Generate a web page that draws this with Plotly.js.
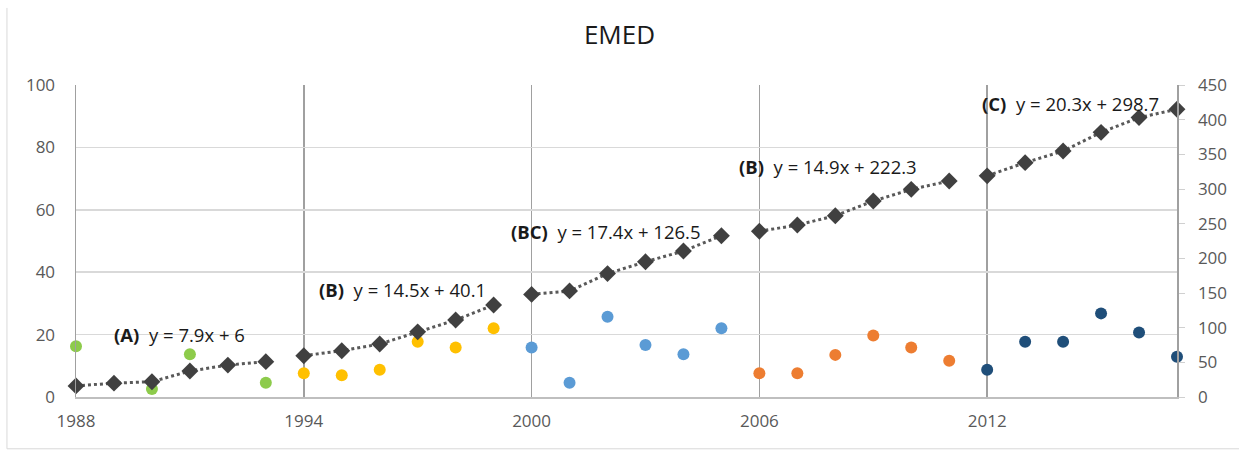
<!DOCTYPE html>
<html>
<head>
<meta charset="utf-8">
<script src="https://cdn.plot.ly/plotly-3.0.1.min.js"></script>
<style>html,body{margin:0;padding:0;background:#fff;}#chart{width:1239px;height:450px;}</style>
</head>
<body>
<div id="chart"></div>
<script>
// ---- data ----
const years = [1988,1989,1990,1991,1992,1993,1994,1995,1996,1997,1998,1999,2000,2001,2002,2003,2004,2005,2006,2007,2008,2009,2010,2011,2012,2013,2014,2015,2016,2017];
const cumulative = [16,20,22,37.5,46,51,59.6,66.8,76.4,94,111,132.7,148,153,178,195,210.5,232.6,239,248,261.5,282.6,299.5,311.5,319,338,354.7,381.7,403,415];

const greenYears = [1988,1990,1991,1993];
const greenValues = [16.3,2.6,13.7,4.6];
const yellowYears = [1994,1995,1996,1997,1998,1999];
const yellowValues = [7.6,7.0,8.7,17.7,15.9,22];
const blueYears = [2000,2001,2002,2003,2004,2005];
const blueValues = [15.9,4.6,25.7,16.7,13.7,22];
const orangeYears = [2006,2007,2008,2009,2010,2011];
const orangeValues = [7.6,7.6,13.5,19.7,15.9,11.6];
const navyYears = [2012,2013,2014,2015,2016,2017];
const navyValues = [8.7,17.7,17.7,26.8,20.7,12.9];

const segmentStart = [1988,1994,2000,2006,2012];
const segmentEnd = [1993,1999,2005,2011,2017];
const trendTags = ["(A)","(B)","(BC)","(B)","(C)"];
const trendEquations = ["y = 7.9x + 6","y = 14.5x + 40.1","y = 17.4x + 126.5","y = 14.9x + 222.3","y = 20.3x + 298.7"];
const xTicks = [1988,1994,2000,2006,2012];
const xTickText = ["1988","1994","2000","2006","2012"];

// ---- styling / layout ----
const FONT = "'Open Sans', sans-serif";
const traces = [];

// dotted connecting lines per segment (right axis)
segmentStart.forEach((s, i) => {
  const xs = [], ys = [];
  years.forEach((yr, k) => { if (yr >= s && yr <= segmentEnd[i]) { xs.push(yr); ys.push(cumulative[k]); } });
  traces.push({x: xs, y: ys, yaxis: 'y2', mode: 'lines', type: 'scatter',
    line: {color: '#595959', width: 3, dash: 'dot'}, hoverinfo: 'skip', showlegend: false, cliponaxis: false});
});

const dotGroups = [
  [greenYears, greenValues, '#8DCB4B'],
  [yellowYears, yellowValues, '#FFC000'],
  [blueYears, blueValues, '#5B9BD5'],
  [orangeYears, orangeValues, '#ED7D31'],
  [navyYears, navyValues, '#1F4E79']
];
dotGroups.forEach(g => {
  traces.push({x: g[0], y: g[1], mode: 'markers', type: 'scatter', yaxis: 'y',
    marker: {color: g[2], size: 12, symbol: 'circle'}, showlegend: false, cliponaxis: false});
});

traces.push({x: years, y: cumulative, yaxis: 'y2', mode: 'markers', type: 'scatter',
  marker: {color: '#404040', size: 13, symbol: 'diamond'}, showlegend: false, cliponaxis: false});

const annX = [1988.95, 1994.35, 1999.4, 2005.4, 2011.8];
const annY = [20, 34.3, 53, 73.8, 94.1];
const annotations = trendTags.map((t, i) => ({
  x: annX[i], y: annY[i], xref: 'x', yref: 'y', xanchor: 'left', yanchor: 'middle',
  text: '<b>' + t + '</b>  ' + trendEquations[i], showarrow: false,
  font: {family: FONT, size: 18.5, color: '#1a1a1a'}
}));

const layout = {
  width: 1239, height: 450,
  margin: {l: 76, r: 62, t: 85, b: 53},
  paper_bgcolor: '#ffffff', plot_bgcolor: '#ffffff',
  title: {text: 'EMED', x: 0.5, xanchor: 'center', y: 0.922, yanchor: 'middle',
    font: {family: FONT, size: 26, color: '#1a1a1a'}},
  xaxis: {range: [1988, 2017], tickvals: xTicks, ticktext: xTickText,
    showgrid: true, gridcolor: '#a0a0a0', gridwidth: 1.5,
    showline: true, linecolor: '#bfbfbf', linewidth: 1.5, zeroline: false,
    ticks: '', ticklabelstandoff: 8, tickfont: {family: FONT, size: 17, color: '#595959'}},
  yaxis: {range: [0, 100], dtick: 20, showgrid: true, gridcolor: '#d9d9d9', gridwidth: 1.5,
    showline: true, linecolor: '#a0a0a0', linewidth: 1.5, zeroline: false, ticks: '',
    ticklabelstandoff: 16, tickfont: {family: FONT, size: 17, color: '#595959'}},
  yaxis2: {range: [0, 450], dtick: 50, overlaying: 'y', side: 'right', showgrid: false,
    showline: true, linecolor: '#a0a0a0', linewidth: 1.5, zeroline: false,
    ticks: 'outside', ticklen: 6, tickcolor: '#d0d0d0', ticklabelstandoff: 10,
    tickfont: {family: FONT, size: 17, color: '#595959'}},
  annotations: annotations,
  shapes: [
    {type: 'line', xref: 'paper', yref: 'paper', x0: -0.0627, x1: -0.0627, y0: -0.166, y1: 1.247,
      line: {color: '#d9d9d9', width: 1}, layer: 'below'},
    {type: 'line', xref: 'paper', yref: 'paper', x0: -0.0627, x1: 1.06, y0: -0.166, y1: -0.166,
      line: {color: '#d9d9d9', width: 1}, layer: 'below'}
  ]
};

Plotly.newPlot('chart', traces, layout, {displayModeBar: false, staticPlot: true});
</script>
</body>
</html>
